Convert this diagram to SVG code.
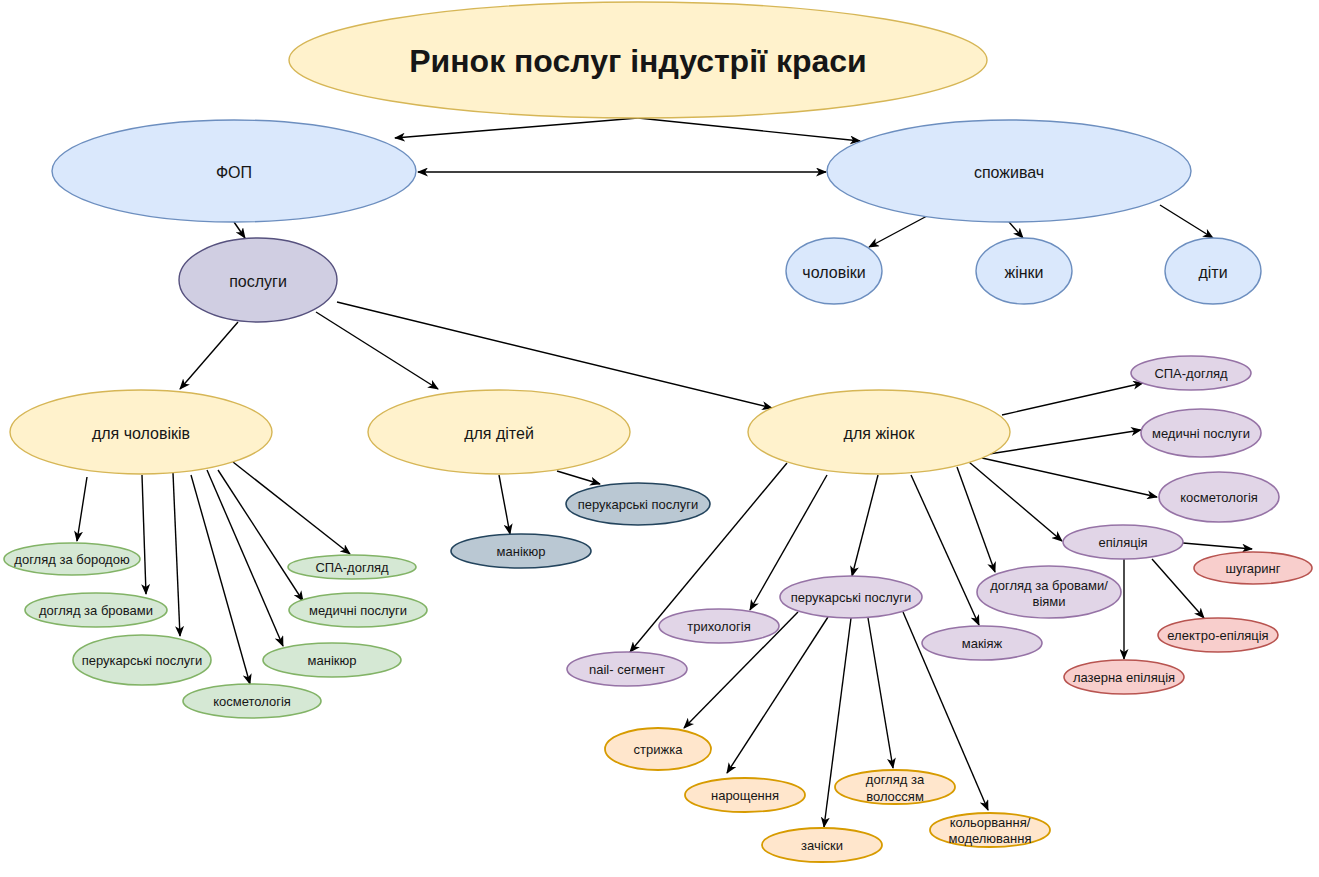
<svg xmlns="http://www.w3.org/2000/svg" width="1319" height="877" viewBox="0 0 1319 877">
<style>
text{font-family:"Liberation Sans",Arial,sans-serif;fill:#161616;text-anchor:middle;dominant-baseline:central}
.t{font-size:32px;font-weight:bold}
.m{font-size:16px}
.n{font-size:13px}
ellipse{stroke-width:1.4}
.y{fill:#fff2cc;stroke:#d6b656}
.b{fill:#dae8fc;stroke:#6c8ebf}
.p{fill:#d0cee2;stroke:#56517e}
.g{fill:#d5e8d4;stroke:#82b366;stroke-width:1.6}
.s{fill:#bac8d3;stroke:#23445d;stroke-width:1.6}
.v{fill:#e1d5e7;stroke:#9673a6;stroke-width:1.6}
.r{fill:#f8cecc;stroke:#b85450;stroke-width:1.6}
.o{fill:#ffe6cc;stroke:#d79b00;stroke-width:1.8}
#edges path{stroke:#000;stroke-width:1.4;fill:none;marker-end:url(#arr)}
</style>
<defs>
<marker id="arr" viewBox="0 0 11 9" refX="10" refY="4.5" markerWidth="11" markerHeight="9" orient="auto-start-reverse" markerUnits="userSpaceOnUse">
<path d="M0,0 L11,4.5 L0,9 L3,4.5 Z" fill="#000"/>
</marker>
</defs>
<rect width="1319" height="877" fill="#fff"/>
<g id="edges">
<path d="M638,118 L395,138"/>
<path d="M638,118 L860,141"/>
<path d="M418,172 L826,172" style="marker-start:url(#arr)"/>
<path d="M234,222 L245,238"/>
<path d="M927,216 L869,247"/>
<path d="M1009,222 L1023,238"/>
<path d="M1160,205 L1213,238"/>
<path d="M238,322 L180,389"/>
<path d="M316,312 L438,389"/>
<path d="M337,302 L772,408"/>
<path d="M87,477 L77,541"/>
<path d="M142,475 L146,594"/>
<path d="M173,473 L180,636"/>
<path d="M191,475 L250,684"/>
<path d="M207,470 L283,646"/>
<path d="M218,470 L303,601"/>
<path d="M233,462 L350,554"/>
<path d="M499,475 L510,534"/>
<path d="M557,471 L600,484"/>
<path d="M1002,415 L1143,383"/>
<path d="M989,454 L1141,430"/>
<path d="M982,458 L1157,497"/>
<path d="M969,462 L1062,541"/>
<path d="M957,467 L995,572"/>
<path d="M911,475 L979,625"/>
<path d="M878,475 L852,576"/>
<path d="M827,475 L750,610"/>
<path d="M787,463 L630,652"/>
<path d="M1183,543 L1252,549"/>
<path d="M1152,559 L1204,618"/>
<path d="M1124,559 L1124,659"/>
<path d="M798,612 L684,728"/>
<path d="M828,617 L727,773"/>
<path d="M851,618 L824,827"/>
<path d="M868,618 L893,768"/>
<path d="M903,612 L988,810"/>
</g>
<g id="title"><ellipse class="y" cx="638" cy="60" rx="349" ry="58"/><text class="t" x="638" y="61">Ринок послуг індустрії краси</text></g>
<g id="fop"><ellipse class="b" cx="234" cy="171" rx="182" ry="51"/><text class="m" x="234" y="172">ФОП</text></g>
<g id="spozhyvach"><ellipse class="b" cx="1009" cy="171" rx="182" ry="51"/><text class="m" x="1009" y="172">споживач</text></g>
<g id="posluhy"><ellipse class="p" cx="258" cy="280" rx="79" ry="42"/><text class="m" x="258" y="281">послуги</text></g>
<g id="cholovіky"><ellipse class="b" cx="834" cy="271" rx="48" ry="33"/><text class="m" x="834" y="272">чоловіки</text></g>
<g id="zhinky"><ellipse class="b" cx="1024" cy="271" rx="48" ry="33"/><text class="m" x="1024" y="272">жінки</text></g>
<g id="dity"><ellipse class="b" cx="1213" cy="271" rx="48" ry="33"/><text class="m" x="1213" y="272">діти</text></g>
<g id="dlia-cholovikiv"><ellipse class="y" cx="141" cy="432" rx="131" ry="42"/><text class="m" x="141" y="433">для чоловіків</text></g>
<g id="dlia-ditei"><ellipse class="y" cx="499" cy="432" rx="131" ry="42"/><text class="m" x="499" y="433">для дітей</text></g>
<g id="dlia-zhinok"><ellipse class="y" cx="879" cy="432" rx="131" ry="42"/><text class="m" x="879" y="433">для жінок</text></g>
<g id="m-boroda"><ellipse class="g" cx="72" cy="559" rx="68" ry="16"/><text class="n" x="72" y="559">догляд за бородою</text></g>
<g id="m-brovy"><ellipse class="g" cx="96" cy="610" rx="71" ry="17"/><text class="n" x="96" y="610">догляд за бровами</text></g>
<g id="m-peruk"><ellipse class="g" cx="142" cy="660" rx="69" ry="25"/><text class="n" x="142" y="660">перукарські послуги</text></g>
<g id="m-kosm"><ellipse class="g" cx="252" cy="701" rx="69" ry="17"/><text class="n" x="252" y="701">косметологія</text></g>
<g id="m-manik"><ellipse class="g" cx="332" cy="660" rx="69" ry="17"/><text class="n" x="332" y="660">манікюр</text></g>
<g id="m-med"><ellipse class="g" cx="358" cy="610" rx="69" ry="17"/><text class="n" x="358" y="610">медичні послуги</text></g>
<g id="m-spa"><ellipse class="g" cx="352" cy="567" rx="64" ry="12"/><text class="n" x="352" y="567">СПА-догляд</text></g>
<g id="d-peruk"><ellipse class="s" cx="638" cy="504" rx="72" ry="21"/><text class="n" x="638" y="504">перукарські послуги</text></g>
<g id="d-manik"><ellipse class="s" cx="521" cy="551" rx="70" ry="17"/><text class="n" x="521" y="551">манікюр</text></g>
<g id="w-spa"><ellipse class="v" cx="1191" cy="373" rx="60" ry="17"/><text class="n" x="1191" y="373">СПА-догляд</text></g>
<g id="w-med"><ellipse class="v" cx="1201" cy="433" rx="60" ry="24"/><text class="n" x="1201" y="433">медичні послуги</text></g>
<g id="w-kosm"><ellipse class="v" cx="1219" cy="497" rx="60" ry="25"/><text class="n" x="1219" y="497">косметологія</text></g>
<g id="w-epil"><ellipse class="v" cx="1123" cy="542" rx="60" ry="17"/><text class="n" x="1123" y="542">епіляція</text></g>
<g id="w-brovy"><ellipse class="v" cx="1049" cy="592" rx="72" ry="26"/><text class="n" x="1049" y="585">догляд за бровами/</text><text class="n" x="1049" y="601">віями</text></g>
<g id="w-makiazh"><ellipse class="v" cx="982" cy="643" rx="60" ry="17"/><text class="n" x="982" y="643">макіяж</text></g>
<g id="w-peruk"><ellipse class="v" cx="851" cy="597" rx="71" ry="21"/><text class="n" x="851" y="597">перукарські послуги</text></g>
<g id="w-tryh"><ellipse class="v" cx="719" cy="626" rx="60" ry="17"/><text class="n" x="719" y="626">трихологія</text></g>
<g id="w-nail"><ellipse class="v" cx="627" cy="669" rx="60" ry="17"/><text class="n" x="627" y="669">nail- сегмент</text></g>
<g id="e-shuh"><ellipse class="r" cx="1253" cy="568" rx="59" ry="16"/><text class="n" x="1253" y="568">шугаринг</text></g>
<g id="e-elektro"><ellipse class="r" cx="1218" cy="635" rx="60" ry="17"/><text class="n" x="1218" y="635">електро-епіляція</text></g>
<g id="e-lazer"><ellipse class="r" cx="1124" cy="677" rx="60" ry="17"/><text class="n" x="1124" y="677">лазерна епіляція</text></g>
<g id="h-stryzh"><ellipse class="o" cx="658" cy="749" rx="53" ry="21"/><text class="n" x="658" y="749">стрижка</text></g>
<g id="h-naros"><ellipse class="o" cx="745" cy="795" rx="60" ry="17"/><text class="n" x="745" y="795">нарощення</text></g>
<g id="h-zach"><ellipse class="o" cx="822" cy="845" rx="60" ry="17"/><text class="n" x="822" y="845">зачіски</text></g>
<g id="h-dohl"><ellipse class="o" cx="895" cy="787" rx="60" ry="17"/><text class="n" x="895" y="779">догляд за</text><text class="n" x="895" y="796">волоссям</text></g>
<g id="h-kolor"><ellipse class="o" cx="990" cy="830" rx="60" ry="17"/><text class="n" x="990" y="822">кольорвання/</text><text class="n" x="990" y="838">моделювання</text></g>
</svg>
